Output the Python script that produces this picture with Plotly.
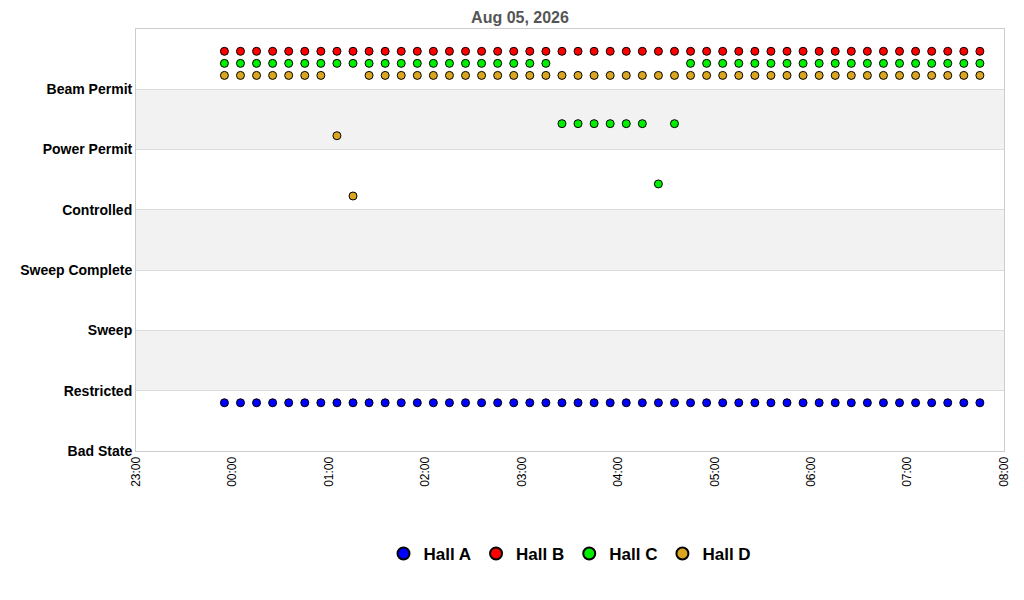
import plotly.graph_objects as go
import pandas as pd

states = ["Bad State", "Restricted", "Sweep", "Sweep Complete", "Controlled", "Power Permit", "Beam Permit"]
times = pd.date_range("2026-08-04 23:55", periods=48, freq="10min")

BP, PP, CT, RS = "Beam Permit", "Power Permit", "Controlled", "Restricted"
hall_a = [RS] * 48
hall_b = [BP] * 48
hall_c = [BP] * 21 + [PP] * 6 + [CT] + [PP] + [BP] * 19
hall_d = [BP] * 7 + [PP, CT] + [BP] * 39

series = [("Hall A", hall_a, "#0000ff", -0.2),
          ("Hall B", hall_b, "#ff0000", 0.63),
          ("Hall C", hall_c, "#00ee00", 0.43),
          ("Hall D", hall_d, "#daa520", 0.23)]

fig = go.Figure()
for name, vals, color, off in series:
    fig.add_trace(go.Scatter(
        x=times, y=[states.index(v) + off for v in vals], mode="markers", name="<b>%s</b>" % name,
        marker=dict(symbol="circle", size=8, color=color, line=dict(color="black", width=1))))

for lo in (1, 3, 5):
    fig.add_shape(type="rect", xref="paper", yref="y", x0=0, x1=1, y0=lo, y1=lo + 1,
                  fillcolor="#f2f2f2", line_width=0, layer="below")

fig.update_layout(
    width=1024, height=600, plot_bgcolor="white", paper_bgcolor="white",
    margin=dict(l=128, r=28, t=21, b=157),
    title=dict(text="<b>Aug 05, 2026</b>", x=0.5, xanchor="center", y=0.993, yanchor="top",
               font=dict(family="Liberation Sans", size=16, color="#555555")),
    font=dict(family="Liberation Sans", color="black"),
    xaxis=dict(range=["2026-08-04 23:00", "2026-08-05 08:00"], dtick=3600000, tickformat="%H:%M",
               tickangle=-90, showgrid=False, showline=True, linecolor="#cccccc", mirror=True,
               tickfont=dict(size=12), ticks="", zeroline=False),
    yaxis=dict(range=[0, 7], tickvals=list(range(7)), ticktext=["<b>%s</b>" % s for s in states],
               showgrid=True, gridcolor="#dddddd", showline=True, linecolor="#cccccc", mirror=True,
               tickfont=dict(size=14), zeroline=False, ticks=""),
    legend=dict(orientation="h", x=0.5, xanchor="center", y=-0.244, yanchor="middle",
                font=dict(size=17), itemsizing="constant"),
)
fig.write_html("out.html")
